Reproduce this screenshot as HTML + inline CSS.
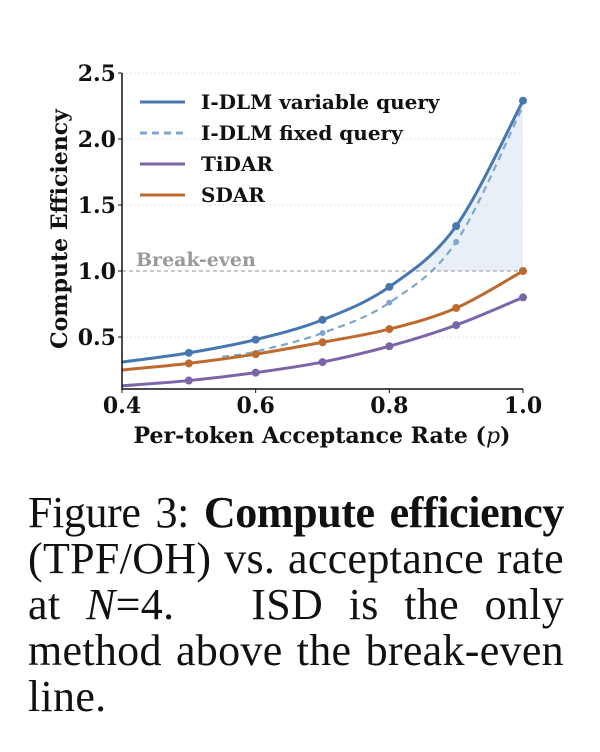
<!DOCTYPE html>
<html><head><meta charset="utf-8"><style>
body{margin:0;background:#fff;width:600px;height:752px;overflow:hidden;position:relative}
svg{position:absolute;left:0;top:0}
.cap{position:absolute;left:28px;width:536px;font-family:"Liberation Serif",serif;font-size:44px;letter-spacing:0.3px;color:#111;white-space:nowrap;text-align:justify;text-align-last:justify;line-height:46px}
</style></head><body>
<svg id="chart" width="600" height="470"></svg>
<div class="cap" style="top:490px">
<div style="letter-spacing:-0.4px">Figure 3: <b>Compute efficiency</b></div>
<div>(TPF/OH) vs. acceptance rate</div>
<div>at <i>N</i>=4.&nbsp;&nbsp;&nbsp;ISD is the only</div>
<div>method above the break-even</div>
<div style="text-align-last:left">line.</div>
</div>
<script>
const pValues=[0.4,0.5,0.6,0.7,0.8,0.9,1.0];
const variableQuery=[0.31,0.38,0.48,0.63,0.88,1.34,2.29];
const fixedP=[0.55,0.6,0.7,0.8,0.9,1.0];
const fixedQuery=[0.35,0.39,0.53,0.76,1.22,2.25];
const tidar=[0.13,0.17,0.23,0.31,0.43,0.59,0.80];
const sdar=[0.25,0.30,0.37,0.46,0.56,0.72,1.0];
const xTicks=[0.4,0.6,0.8,1.0];
const yTicks=[0.5,1.0,1.5,2.0,2.5];
const breakEven=1.0;

const NS="http://www.w3.org/2000/svg";
const svg=document.getElementById('chart');
const X0=122,X1=523,Ytop=73,Ybot=389;
const xs=v=>X0+(v-0.4)/0.6*(X1-X0);
const ys=v=>271-(v-1.0)*132;
function el(t,a,p){const e=document.createElementNS(NS,t);for(const k in a)e.setAttribute(k,a[k]);(p||svg).appendChild(e);return e;}
function pathD(px,py){
  const pts=px.map((p,i)=>[xs(p),ys(py[i])]);
  let d='M'+pts[0][0]+','+pts[0][1];
  for(let i=0;i<pts.length-1;i++){
    const p0=pts[Math.max(i-1,0)],p1=pts[i],p2=pts[i+1],p3=pts[Math.min(i+2,pts.length-1)];
    const c1=[p1[0]+(p2[0]-p0[0])/6,p1[1]+(p2[1]-p0[1])/6];
    const c2=[p2[0]-(p3[0]-p1[0])/6,p2[1]-(p3[1]-p1[1])/6];
    d+=` C${c1[0]},${c1[1]} ${c2[0]},${c2[1]} ${p2[0]},${p2[1]}`;
  }
  return d;
}
yTicks.forEach(t=>{if(t===1.0)return;const g=el('line',{x1:X0,x2:X1,y1:ys(t),y2:ys(t),stroke:'#e4e4e4','stroke-dasharray':'2,2','stroke-width':1});

});
const defs=el('defs',{});
const cp=el('clipPath',{id:'above'},defs);
el('rect',{x:X0,y:0,width:X1-X0,height:ys(breakEven)},cp);
const shade=el('path',{d:pathD(pValues,variableQuery)+` L${xs(1.0)},${ys(breakEven)} L${xs(0.4)},${ys(breakEven)} Z`,fill:'#dfe8f3',opacity:0.7,'clip-path':'url(#above)'});


const be=el('line',{x1:X0,x2:X1,y1:ys(breakEven),y2:ys(breakEven),stroke:'#aaa','stroke-dasharray':'4,3','stroke-width':1.3});


const bt=el('text',{x:136,y:ys(breakEven)-5,fill:'#999','font-family':'DejaVu Serif,serif','font-weight':'bold','font-size':19});
bt.textContent='Break-even';


function series(px,py,color,name,dash,mk){
  const p=el('path',{d:pathD(px,py),fill:'none',stroke:color,'stroke-width':dash?2.2:3,'stroke-dasharray':dash||''});
  
  
  px.forEach((v,i)=>{if(!mk.includes(v))return;const c=el('circle',{cx:xs(v),cy:ys(py[i]),r:dash?3:4,fill:color});
  
  });
}
series(fixedP,fixedQuery,'#7fa6cf','fixed-query','7,5',[0.7,0.8,0.9]);
series(pValues,tidar,'#7b65a8','tidar',null,[0.5,0.6,0.7,0.8,0.9,1.0]);
series(pValues,sdar,'#bd6a2e','sdar',null,[0.5,0.6,0.7,0.8,0.9,1.0]);
series(pValues,variableQuery,'#4677b0','variable-query',null,[0.5,0.6,0.7,0.8,0.9,1.0]);
const ax=el('path',{d:`M${X0},${Ytop} L${X0},${Ybot} L${X1},${Ybot}`,fill:'none',stroke:'#111','stroke-width':1.5});


const F={'font-family':'DejaVu Serif,serif','font-weight':'bold','font-size':22,fill:'#111'};
xTicks.forEach(t=>{el('line',{x1:xs(t),x2:xs(t),y1:Ybot,y2:Ybot+4,stroke:'#111'});
  const tx=el('text',Object.assign({x:xs(t),y:413,'text-anchor':'middle'},F));tx.textContent=t.toFixed(1);
  
  });
yTicks.forEach(t=>{el('line',{x1:X0-4,x2:X0,y1:ys(t),y2:ys(t),stroke:'#111'});
  const tx=el('text',Object.assign({x:X0-6,y:ys(t)+8,'text-anchor':'end'},F));tx.textContent=t.toFixed(1);
  
  });
const xt=el('text',Object.assign({x:322,y:443,'text-anchor':'middle'},F));
xt.innerHTML='Per-token Acceptance Rate (<tspan font-style="italic" font-weight="normal">p</tspan>)';


const yt=el('text',Object.assign({x:0,y:0,'text-anchor':'middle',transform:`translate(67,${(Ytop+Ybot)/2-2}) rotate(-90)`},F));
yt.textContent='Compute Efficiency';


const leg=[['I-DLM variable query','#4677b0',null],['I-DLM fixed query','#7fa6cf','7,5'],['TiDAR','#7b65a8',null],['SDAR','#bd6a2e',null]];
leg.forEach((l,i)=>{const y=102+i*31;
  el('line',{x1:140,x2:185,y1:y,y2:y,stroke:l[1],'stroke-width':3,'stroke-dasharray':l[2]||''});
  const t=el('text',Object.assign({x:201,y:y+7},F,{'font-size':20}));t.textContent=l[0];
  
  });
</script>
</body></html>
